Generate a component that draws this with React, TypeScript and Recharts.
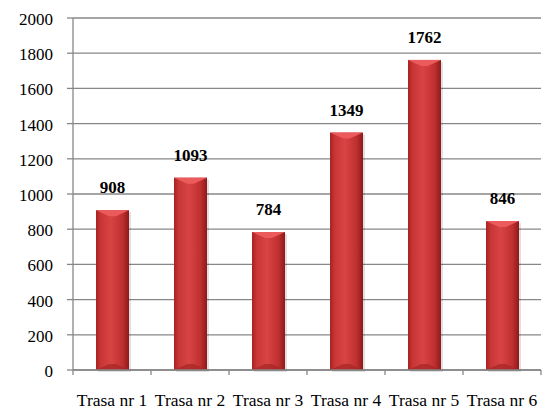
import { Bar, BarChart, CartesianGrid, LabelList, XAxis, YAxis } from "recharts";

const categories = ["Trasa nr 1", "Trasa nr 2", "Trasa nr 3", "Trasa nr 4", "Trasa nr 5", "Trasa nr 6"];
const values = [908, 1093, 784, 1349, 1762, 846];
const yTicks = [0, 200, 400, 600, 800, 1000, 1200, 1400, 1600, 1800, 2000];

const data = categories.map((name, i) => ({ name, value: values[i] }));

const FONT = "Liberation Serif";
const GRID = "#878787";

// bevelled red column, like the office-style 3D bar
function BevelBar(props: any) {
  const { x, y, width, height } = props;
  if (!height || height <= 0) return null;
  const b = Math.min(6, height / 2);
  return (
    <g>
      <rect x={x + 2} y={y + 2} width={width} height={height} fill="rgba(0,0,0,0.12)" />
      <rect x={x} y={y} width={width} height={height} fill="url(#barGrad)" />
      <polygon
        points={`${x},${y} ${x + width},${y} ${x + width - b * 2.2},${y + b} ${x + b * 2.2},${y + b}`}
        fill="#ec5b5b"
      />
      <polygon
        points={`${x},${y + height} ${x + width},${y + height} ${x + width - b * 2.2},${y + height - b} ${x + b * 2.2},${y + height - b}`}
        fill="#a52525"
        opacity={0.7}
      />
    </g>
  );
}

// category label + boundary tick marks (the y we get is already 8px below the axis)
function CategoryTick(props: any) {
  const { x, y, payload, index } = props;
  const half = 39;
  const ay = y - 8;
  return (
    <g>
      <line x1={x - half} y1={ay} x2={x - half} y2={ay + 5} stroke={GRID} strokeWidth={1.3} />
      {index === categories.length - 1 && (
        <line x1={x + half} y1={ay} x2={x + half} y2={ay + 5} stroke={GRID} strokeWidth={1.3} />
      )}
      <text x={x} y={ay + 36} textAnchor="middle" style={{ fontFamily: FONT, fontSize: 17.5 }} fill="#000">
        {payload.value}
      </text>
    </g>
  );
}

function ValueTick(props: any) {
  const { x, y, payload } = props;
  return (
    <text x={x} y={y + 7} textAnchor="end" style={{ fontFamily: FONT, fontSize: 17 }} fill="#000">
      {payload.value}
    </text>
  );
}

function ValueLabel(props: any) {
  const { x, y, width, value } = props;
  return (
    <text
      x={x + width / 2}
      y={y - 17}
      textAnchor="middle"
      style={{ fontFamily: FONT, fontSize: 17, fontWeight: "bold" }}
      fill="#000"
    >
      {value}
    </text>
  );
}

export default function App() {
  return (
    <div style={{ position: "absolute", left: 0, top: 0, background: "#fff" }}>
      <BarChart width={544} height={410} data={data} margin={{ top: 18, right: 3, bottom: 0, left: 0 }}>
        <defs>
          <linearGradient id="barGrad" x1="0" y1="0" x2="1" y2="0">
            <stop offset="0%" stopColor="#a82222" />
            <stop offset="15%" stopColor="#c93636" />
            <stop offset="45%" stopColor="#d84444" />
            <stop offset="80%" stopColor="#c03030" />
            <stop offset="100%" stopColor="#8e1a1a" />
          </linearGradient>
        </defs>
        <CartesianGrid vertical={false} stroke={GRID} strokeWidth={1.3} />
        <XAxis
          dataKey="name"
          height={40}
          axisLine={{ stroke: GRID, strokeWidth: 1.3 }}
          tickLine={false}
          tick={<CategoryTick />}
          interval={0}
        />
        <YAxis
          width={73}
          domain={[0, 2000]}
          ticks={yTicks}
          interval={0}
          axisLine={{ stroke: GRID, strokeWidth: 1.3 }}
          tickLine={{ stroke: GRID, strokeWidth: 1.3 }}
          tickSize={6}
          tickMargin={14}
          tick={<ValueTick />}
        />
        <Bar dataKey="value" barSize={33} shape={<BevelBar />} isAnimationActive={false}>
          <LabelList dataKey="value" content={<ValueLabel />} />
        </Bar>
      </BarChart>
    </div>
  );
}
